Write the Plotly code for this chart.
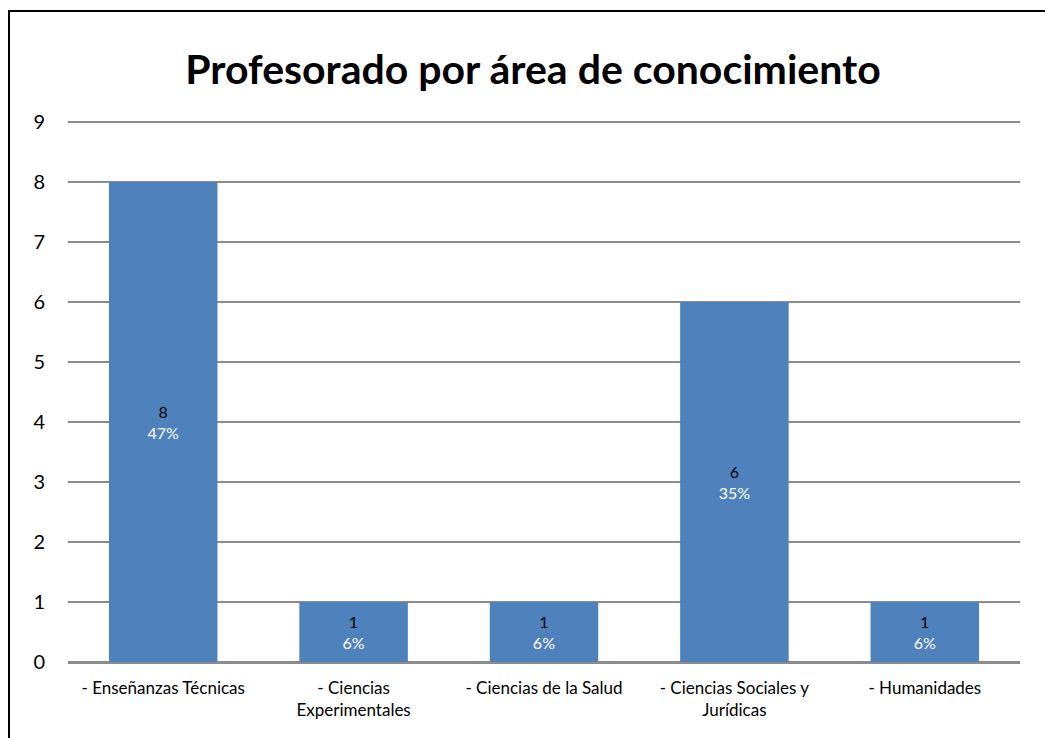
import plotly.graph_objects as go

categories = ["- Enseñanzas Técnicas", "- Ciencias<br>Experimentales", "- Ciencias de la Salud",
              "- Ciencias Sociales y<br>Jurídicas", "- Humanidades"]
values = [8, 1, 1, 6, 1]
percents = ["47%", "6%", "6%", "35%", "6%"]
y_ticks = [0, 1, 2, 3, 4, 5, 6, 7, 8, 9]

texts = [f"<span style='color:black'>{v}</span><br>{p}" for v, p in zip(values, percents)]

fig = go.Figure()
fig.add_trace(go.Bar(
    x=categories, y=values, marker_color="#4F81BD", marker_line_width=0,
    text=texts, texttemplate="%{text}", textposition="inside", insidetextanchor="middle",
    textangle=0, textfont=dict(color="white", size=16, family="Lato"),
    constraintext="none", hoverinfo="skip",
))

W, H = 1045, 738
y_top = 9.05
l, r, b = 68, 25, 76
t = 122 - round((y_top - 9) * 60)
pw, ph = W - l - r, H - t - b

def px_x(x):
    return (x - l) / pw

def px_y(y):
    return (H - b - y) / ph

fig.update_layout(
    width=W, height=H,
    margin=dict(l=l, r=r, t=t, b=b),
    paper_bgcolor="white", plot_bgcolor="white",
    font=dict(family="Lato", color="black"),
    title=dict(text="<b>Profesorado por área de conocimiento</b>", x=0.51, xanchor="center",
               y=1 - 70 / H, yanchor="middle", font=dict(size=41, family="Lato", color="black")),
    bargap=0.43,
    showlegend=False,
    shapes=[
        dict(type="line", xref="paper", yref="paper", x0=px_x(9), x1=px_x(9), y0=px_y(11), y1=px_y(760),
             line=dict(color="black", width=2)),
        dict(type="line", xref="paper", yref="paper", x0=px_x(8), x1=px_x(1060), y0=px_y(11), y1=px_y(11),
             line=dict(color="black", width=2)),
    ],
)
fig.update_yaxes(range=[0, y_top], tickvals=y_ticks, showgrid=True, gridcolor="#8C8C8C", gridwidth=1.5,
                 zeroline=True, zerolinecolor="#8C8C8C", zerolinewidth=1.5,
                 tickfont=dict(size=20, family="Lato"), ticklabelstandoff=22, showline=False)
fig.update_xaxes(showline=True, linecolor="#8C8C8C", linewidth=1.5, tickfont=dict(size=17, family="Lato"),
                 ticklabelstandoff=10, tickangle=0)

fig.write_html("out.html", config={"displayModeBar": False},
               post_script="document.body.style.margin='0';document.body.style.overflow='hidden';")
